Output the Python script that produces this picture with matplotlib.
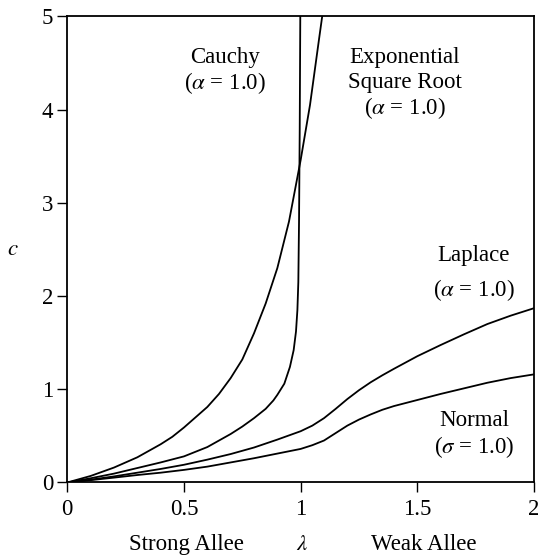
import matplotlib
matplotlib.use("Agg")
import matplotlib.pyplot as plt
from matplotlib.ticker import FixedLocator, FixedFormatter

plt.rcParams['font.family'] = ['Liberation Serif', 'DejaVu Serif']
plt.rcParams['mathtext.fontset'] = 'stix'

# ---- data ----
lam_cauchy = [0, 0.1, 0.2, 0.3, 0.4, 0.45, 0.5, 0.55, 0.6, 0.65, 0.7, 0.75,
              0.8, 0.85, 0.9, 0.95, 1.0, 1.04, 1.08, 1.095]
c_cauchy = [0, 0.07, 0.16, 0.27, 0.41, 0.49, 0.59, 0.70, 0.81, 0.95, 1.12, 1.32,
            1.60, 1.92, 2.30, 2.80, 3.46, 4.05, 4.78, 5.05]

lam_expsqrt = [0, 0.1, 0.2, 0.3, 0.4, 0.5, 0.6, 0.7, 0.75, 0.8, 0.85, 0.883,
               0.9, 0.93, 0.954, 0.97, 0.98, 0.986, 0.99, 0.993, 0.996, 0.9985]
c_expsqrt = [0, 0.045, 0.095, 0.155, 0.215, 0.28, 0.38, 0.52, 0.60, 0.69, 0.79, 0.88,
             0.94, 1.06, 1.24, 1.42, 1.62, 1.85, 2.15, 2.8, 3.8, 5.05]

lam_laplace = [0, 0.1, 0.2, 0.3, 0.4, 0.5, 0.6, 0.7, 0.8, 0.9, 1.0, 1.05, 1.1,
               1.15, 1.2, 1.25, 1.3, 1.35, 1.4, 1.5, 1.6, 1.7, 1.8, 1.9, 2.0]
c_laplace = [0, 0.03, 0.065, 0.105, 0.145, 0.19, 0.245, 0.305, 0.375, 0.46, 0.55, 0.61, 0.69,
             0.79, 0.895, 0.99, 1.075, 1.15, 1.22, 1.355, 1.475, 1.59, 1.70, 1.79, 1.87]

lam_normal = [0, 0.1, 0.2, 0.3, 0.4, 0.5, 0.6, 0.7, 0.8, 0.9, 1.0, 1.05, 1.1,
              1.15, 1.2, 1.25, 1.3, 1.35, 1.4, 1.5, 1.6, 1.7, 1.8, 1.9, 2.0]
c_normal = [0, 0.025, 0.052, 0.08, 0.105, 0.135, 0.17, 0.215, 0.26, 0.31, 0.36, 0.40, 0.45,
            0.53, 0.61, 0.675, 0.73, 0.78, 0.82, 0.885, 0.95, 1.01, 1.07, 1.12, 1.16]

xticks = [0, 0.5, 1, 1.5, 2]
xticklabels = ["0", "0.5", "1", "1.5", "2"]
yticks = [0, 1, 2, 3, 4, 5]
yticklabels = ["0", "1", "2", "3", "4", "5"]

FS = 16.5

fig = plt.figure(figsize=(5.38, 5.59), dpi=100)
ax = fig.add_axes([0.1251, 0.1369, 0.8675, 0.8336])

for lx, ly in [(lam_cauchy, c_cauchy), (lam_expsqrt, c_expsqrt),
               (lam_laplace, c_laplace), (lam_normal, c_normal)]:
    ax.plot(lx, ly, color='black', lw=1.3, solid_joinstyle='round')

ax.set_xlim(0, 2)
ax.set_ylim(0, 5)
ax.xaxis.set_major_locator(FixedLocator(xticks))
ax.xaxis.set_major_formatter(FixedFormatter(xticklabels))
ax.yaxis.set_major_locator(FixedLocator(yticks))
ax.yaxis.set_major_formatter(FixedFormatter(yticklabels))
ax.tick_params(direction='out', length=7, width=1.0, labelsize=FS,
               top=False, right=False)
ax.tick_params(axis='x', pad=5)
ax.tick_params(axis='y', pad=3)
for s in ax.spines.values():
    s.set_linewidth(1.3)

# annotations
ax.text(0.676, 4.56, "Cauchy", ha='center', va='center', fontsize=FS)
ax.text(0.676, 4.29, r"($\alpha$ = 1.0)", ha='center', va='center', fontsize=FS)
ax.text(1.447, 4.56, "Exponential", ha='center', va='center', fontsize=FS)
ax.text(1.447, 4.29, "Square Root", ha='center', va='center', fontsize=FS)
ax.text(1.447, 4.02, r"($\alpha$ = 1.0)", ha='center', va='center', fontsize=FS)
ax.text(1.742, 2.44, "Laplace", ha='center', va='center', fontsize=FS)
ax.text(1.742, 2.06, r"($\alpha$ = 1.0)", ha='center', va='center', fontsize=FS)
ax.text(1.742, 0.67, "Normal", ha='center', va='center', fontsize=FS)
ax.text(1.742, 0.38, r"($\sigma$ = 1.0)", ha='center', va='center', fontsize=FS)

# axis labels
xt = ax.get_xaxis_transform()
ax.text(0.509, -0.134, "Strong Allee", transform=xt, ha='center', va='center', fontsize=FS)
ax.text(1.006, -0.134, r"$\lambda$", transform=xt, ha='center', va='center', fontsize=FS)
ax.text(1.528, -0.134, "Weak Allee", transform=xt, ha='center', va='center', fontsize=FS)
ax.text(-0.116, 0.499, r"$c$", transform=ax.transAxes, ha='center', va='center', fontsize=FS)

fig.savefig("out.png", dpi=100)
